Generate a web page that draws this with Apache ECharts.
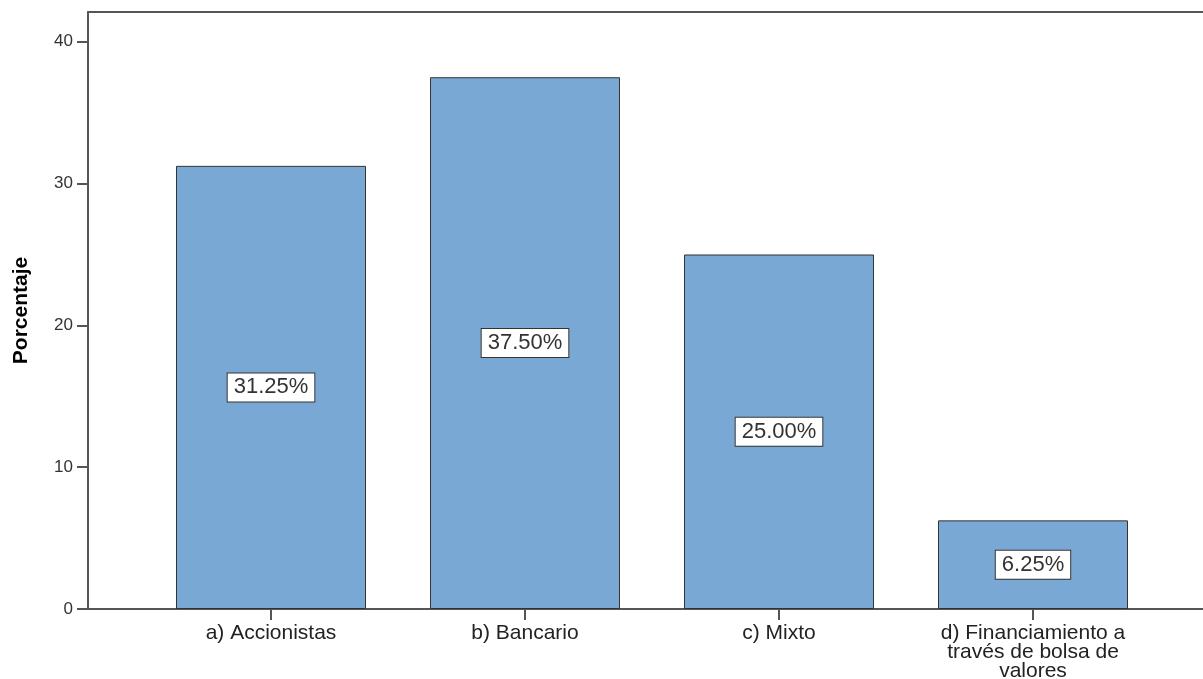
<!DOCTYPE html>
<html>
<head>
<meta charset="utf-8">
<script src="https://cdn.jsdelivr.net/npm/echarts@6/dist/echarts.min.js"></script>
<style>
  html, body { margin: 0; padding: 0; background: #fff; }
  #chart { width: 1203px; height: 679px; }
</style>
</head>
<body>
<div id="chart"></div>
<script>
// Categories and percentages
const categories = [
  'a) Accionistas',
  'b) Bancario',
  'c) Mixto',
  'd) Financiamiento a\ntravés de bolsa de\nvalores'
];
const percentages = [31.25, 37.5, 25.0, 6.25];
const yTicks = [0, 10, 20, 30, 40];

const chart = echarts.init(document.getElementById('chart'));
const frameColor = '#555';
const font = '"Liberation Sans", Arial, sans-serif';

chart.setOption({
  animation: false,
  backgroundColor: '#fff',
  grid: [
    // outer frame with the value axis
    { left: 88, right: 0, top: 12, bottom: 70, outerBoundsMode: 'none', containLabel: false },
    // inner band area holding the bars
    { left: 144, right: 43, top: 12, bottom: 70, outerBoundsMode: 'none', containLabel: false }
  ],
  xAxis: [
    // bottom and top frame lines
    { gridIndex: 0, type: 'value', min: 0, max: 1, position: 'bottom',
      axisLine: { show: true, lineStyle: { color: frameColor, width: 2 } },
      axisTick: { show: false }, axisLabel: { show: false }, splitLine: { show: false } },
    { gridIndex: 0, type: 'value', min: 0, max: 1, position: 'top',
      axisLine: { show: true, lineStyle: { color: frameColor, width: 2 } },
      axisTick: { show: false }, axisLabel: { show: false }, splitLine: { show: false } },
    {
      gridIndex: 1, type: 'category', data: categories,
      axisLine: { show: false },
      axisTick: { show: true, alignWithLabel: true, length: 11, lineStyle: { color: frameColor, width: 2 } },
      axisLabel: { color: '#222', fontFamily: font, fontSize: 21, lineHeight: 19, margin: 15, interval: 0 },
      splitLine: { show: false }
    }
  ],
  yAxis: [
    {
      gridIndex: 0, type: 'value', min: 0, max: 42.1,
      name: 'Porcentaje', nameLocation: 'middle', nameRotate: 90, nameGap: 56,
      nameTextStyle: { color: '#000', fontFamily: font, fontWeight: 'bold', fontSize: 21 },
      axisLine: { show: true, lineStyle: { color: frameColor, width: 2 } },
      axisTick: { show: true, length: 11, customValues: yTicks, lineStyle: { color: frameColor, width: 2 } },
      axisLabel: { customValues: yTicks, color: '#333', fontFamily: font, fontSize: 17, margin: 15 },
      splitLine: { show: false }
    },
    { gridIndex: 1, type: 'value', min: 0, max: 42.1, show: false }
  ],
  series: [{
    type: 'bar',
    xAxisIndex: 2,
    yAxisIndex: 1,
    data: percentages,
    barWidth: 190,
    itemStyle: { color: '#79a8d5', borderColor: '#333', borderWidth: 1 },
    label: {
      show: true,
      position: 'inside',
      formatter: p => p.value.toFixed(2) + '%',
      color: '#333',
      fontFamily: font,
      fontSize: 22,
      lineHeight: 22,
      backgroundColor: '#fff',
      borderColor: '#333',
      borderWidth: 1,
      padding: [3, 6, 3, 6]
    }
  }]
});
</script>
</body>
</html>
